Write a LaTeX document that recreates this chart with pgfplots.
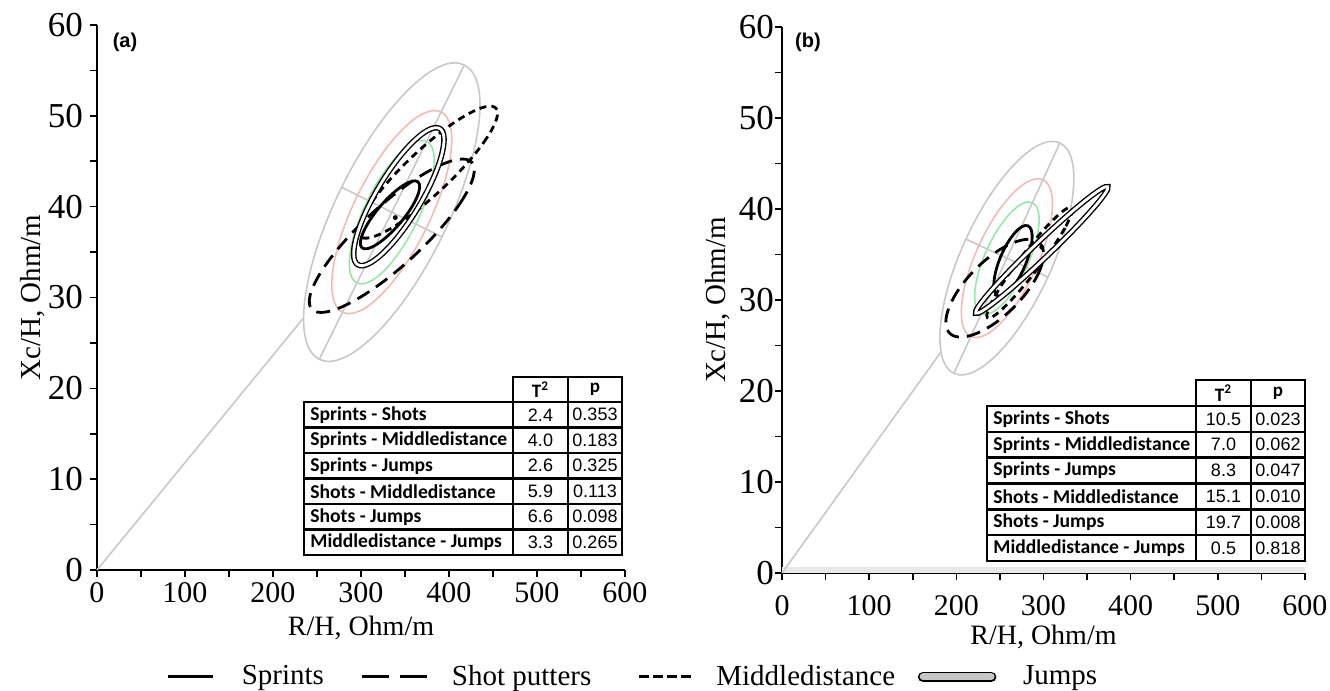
\documentclass[border=0pt]{standalone}
\usepackage{pgfplots}
\pgfplotsset{compat=1.18}
\usepackage{fontspec}
\setmainfont{Liberation Serif}
\newfontfamily\tabfont{Carlito}
\newfontfamily\numfont{Liberation Sans}

\definecolor{tolgray}{RGB}{200,200,200}
\definecolor{tolpink}{RGB}{246,184,184}
\definecolor{tolgreen}{RGB}{150,232,170}

\pgfplotsset{
  biva/.style={
    scale only axis,
    xmin=0, xmax=600, ymin=0, ymax=60,
    axis x line=bottom, axis y line=left,
    axis line style={black, line width=1pt, -},
    xtick={0,100,...,600}, ytick={0,10,...,60},
    minor x tick num=1, minor y tick num=1,
    tick align=outside,
    major tick length=3.5pt, minor tick length=3.5pt,
    every tick/.style={black, line width=0.8pt},
    /pgf/number format/assume math mode=true,
    xticklabel style={font=\fontsize{15}{17}\selectfont},
    yticklabel style={font=\fontsize{17.5}{19}\selectfont},
    xlabel={R/H, Ohm/m}, ylabel={Xc/H, Ohm/m},
    clip=false,
  },
  tol/.style={forget plot, smooth cycle, tension=0.68, line width=0.8pt},
  axisline/.style={forget plot, tolgray, line width=0.8pt},
  sprints/.style={black, line width=1.4pt, smooth cycle, tension=0.68},
  shots/.style={black, line width=1.4pt, dash pattern=on 7pt off 4pt, smooth cycle, tension=0.68},
  middle/.style={black, line width=1.4pt, dash pattern=on 3.5pt off 2.5pt, smooth cycle, tension=0.68},
  jumps/.style={black, line width=0.7pt, double=white, double distance=1.4pt, smooth cycle, tension=0.68},
}

\begin{document}
\begin{tikzpicture}

% ---------------- (a) ----------------
\begin{axis}[biva,
  at={(48.5pt,-285pt)}, anchor=south west,
  width=264pt, height=272.5pt,
  xticklabel style={yshift=1pt},
  every axis x label/.style={at={(axis description cs:0.5,-0.106)}, anchor=center, font=\fontsize{14}{16}\selectfont},
  every axis y label/.style={at={(axis description cs:-0.1212,0.5)}, rotate=90, anchor=center, font=\fontsize{14.5}{17}\selectfont},
  legend style={at={(axis description cs:0.1307,-0.196)}, anchor=west,
    draw=none, fill=none, legend columns=4, inner sep=0pt, column sep=0pt,
    font=\fontsize{14.5}{17}\selectfont, nodes={inner sep=0pt, anchor=west}},
]
% tolerance ellipses 95 / 75 / 50 %
\addplot[tol, tolgray] coordinates {(417.4,55.6) (433.6,48.92) (392,36.67) (317.04,26.01) (252.6,23.2) (236.4,29.88) (278,42.13) (352.96,52.79)};
\addplot[tol, tolpink] coordinates {(391.0,50.42) (402.05,45.87) (373.76,37.54) (322.79,30.29) (278.97,28.38) (267.95,32.93) (296.24,41.26) (347.21,48.51)};
\addplot[tol, tolgreen] coordinates {(374.63,47.19) (382.43,43.98) (362.42,38.09) (326.36,32.96) (295.37,31.61) (287.57,34.82) (307.58,40.71) (343.64,45.84)};
\addplot[axisline] coordinates {(252.6,23.2) (417.4,55.6)};
\addplot[axisline] coordinates {(278,42.13) (392,36.67)};
\addplot[axisline] coordinates {(0,0) (234.3,27.7)};
% groups
\addplot[sprints, legend image code/.code={\path[draw=none] (0pt,0pt) -- (37pt,0pt); \draw[black, line width=1.4pt] (0pt,0pt) -- (22.5pt,0pt);}]
  coordinates {(364.8,42.73) (363.4,41.01) (344.2,38.17) (318.43,35.88) (301.2,35.47) (302.6,37.19) (321.8,40.03) (347.57,42.32)};
\addlegendentry{Sprints}
\addplot[shots, legend image code/.code={\path[draw=none] (0pt,0pt) -- (64pt,0pt); \draw[black, line width=1.4pt, dash pattern=on 13.5pt off 5.5pt] (19pt,0pt) -- (51.5pt,0pt);}]
  coordinates {(425.9,44.89) (415.54,40.81) (358,34.38) (286.99,29.37) (244.1,28.71) (254.46,32.79) (312,39.22) (383.01,44.23)};
\addlegendentry{Shot putters}
\addplot[middle, legend image code/.code={\path[draw=none] (0pt,0pt) -- (62.5pt,0pt); \draw[black, line width=1.4pt, dash pattern=on 5pt off 2pt] (24pt,0pt) -- (50pt,0pt);}]
  coordinates {(453.3,50.85) (442.75,47.54) (393.1,42.04) (333.43,37.57) (298.7,36.75) (309.25,40.06) (358.9,45.56) (418.57,50.03)};
\addlegendentry{Middledistance}
\addplot[jumps, legend image code/.code={\path[draw=none] (0pt,0pt) -- (64pt,0pt); \draw[black, line width=0.9pt, double=gray!45, double distance=3.5pt, line cap=round] (14pt,0pt) -- (48pt,0pt);}]
  coordinates {(389.6,48.59) (391.15,45.51) (364.5,39.84) (325.25,34.91) (296.4,33.61) (294.85,36.69) (321.5,42.36) (360.75,47.29)};
\addlegendentry{Jumps}
\addplot[forget plot, only marks, mark=*, mark size=1pt, black] coordinates {(339,38.8)};
\end{axis}

% ---------------- (b) ----------------
\begin{axis}[biva,
  at={(391pt,-286.5pt)}, anchor=south west,
  width=261.5pt, height=273pt,
  xticklabel style={yshift=-4pt},
  yticklabel style={xshift=3pt},
  every axis x label/.style={at={(axis description cs:0.5,-0.118)}, anchor=center, font=\fontsize{14}{16}\selectfont},
  every axis y label/.style={at={(axis description cs:-0.1224,0.5)}, rotate=90, anchor=center, font=\fontsize{14.5}{17}\selectfont},
]
\addplot[forget plot, gray!18, line width=3pt] coordinates {(0,0.35) (600,0.35)};
\addplot[tol, tolgray] coordinates {(318.8,47.26) (334.23,42.07) (305,32.51) (248.24,24.17) (197.2,21.94) (181.77,27.13) (211,36.69) (267.76,45.03)};
\addplot[tol, tolpink] coordinates {(299.34,43.21) (309.84,39.68) (289.96,33.18) (251.36,27.51) (216.66,25.99) (206.16,29.52) (226.04,36.02) (264.64,41.69)};
\addplot[tol, tolgreen] coordinates {(287.24,40.69) (294.67,38.19) (280.61,33.6) (253.31,29.58) (228.76,28.51) (221.33,31.01) (235.39,35.6) (262.69,39.62)};
\addplot[axisline] coordinates {(197.2,21.94) (318.8,47.26)};
\addplot[axisline] coordinates {(211,36.69) (305,32.51)};
\addplot[axisline] coordinates {(0,0) (182.5,24.3)};
\addplot[sprints] coordinates {(282.2,38.15) (286.85,36.63) (278.7,33.74) (262.53,31.18) (247.8,30.45) (243.15,31.97) (251.3,34.86) (267.47,37.42)};
\addplot[shots] coordinates {(295.6,36.25) (295.97,33.32) (265.9,29.2) (223,26.32) (192.4,26.35) (192.03,29.28) (222.1,33.4) (265,36.28)};
\addplot[middle] coordinates {(332.2,40.16) (324.53,37.91) (293.12,33.43) (256.37,29.34) (235.8,28.04) (243.47,30.29) (274.88,34.77) (311.63,38.86)};
\addplot[jumps] coordinates {(373.7,42.44) (356,39.95) (304.33,34.86) (248.95,30.14) (222.3,28.56) (240,31.05) (291.67,36.14) (347.05,40.86)};
\addplot[only marks, mark=*, mark size=1pt, black] coordinates {(298,35.8)};
\end{axis}

% ---------------- panel letters and tables (pixel grid) ----------------
\begin{scope}[x=0.5pt, y=-0.5pt]
\node[font=\numfont\bfseries\fontsize{10}{12}\selectfont] at (125,42) {(a)};
\node[font=\numfont\bfseries\fontsize{10}{12}\selectfont] at (808,42) {(b)};

% table (a)
\begin{scope}[line width=1.3pt]
\draw (513,377) rectangle (622,402) (568,377) -- (568,402);
\draw (304,402) rectangle (622,555);
\foreach \i in {1,...,5} \draw (304,402+25.5*\i) -- (622,402+25.5*\i);
\draw (513,402) -- (513,555) (568,402) -- (568,555);
\end{scope}
\node[font=\tabfont\bfseries\fontsize{9.5}{11}\selectfont] at (540.5,389.5) {T\textsuperscript{2}};
\node[font=\tabfont\bfseries\fontsize{9.5}{11}\selectfont] at (595,389.5) {p};
\foreach \nm/\t/\p [count=\i from 0] in {Sprints - Shots/2.4/0.353, Sprints - Middledistance/4.0/0.183, Sprints - Jumps/2.6/0.325, Shots - Middledistance/5.9/0.113, Shots - Jumps/6.6/0.098, Middledistance - Jumps/3.3/0.265} {
  \node[anchor=west, inner xsep=1pt, font=\tabfont\bfseries\fontsize{9.8}{11}\selectfont] at (308,414.75+25.5*\i) {\nm};
  \node[font=\numfont\fontsize{9}{11}\selectfont] at (540.5,414.75+25.5*\i) {\t};
  \node[font=\numfont\fontsize{9}{11}\selectfont] at (595,414.75+25.5*\i) {\p};
}

% table (b)
\begin{scope}[line width=1.3pt]
\draw (1196,380) rectangle (1305,406) (1251,380) -- (1251,406);
\draw (987,406) rectangle (1305,561);
\foreach \i in {1,...,5} \draw (987,406+25.83*\i) -- (1305,406+25.83*\i);
\draw (1196,406) -- (1196,561) (1251,406) -- (1251,561);
\end{scope}
\node[font=\tabfont\bfseries\fontsize{9.5}{11}\selectfont] at (1223.5,393) {T\textsuperscript{2}};
\node[font=\tabfont\bfseries\fontsize{9.5}{11}\selectfont] at (1278,393) {p};
\foreach \nm/\t/\p [count=\i from 0] in {Sprints - Shots/10.5/0.023, Sprints - Middledistance/7.0/0.062, Sprints - Jumps/8.3/0.047, Shots - Middledistance/15.1/0.010, Shots - Jumps/19.7/0.008, Middledistance - Jumps/0.5/0.818} {
  \node[anchor=west, inner xsep=1pt, font=\tabfont\bfseries\fontsize{9.8}{11}\selectfont] at (991,418.9+25.83*\i) {\nm};
  \node[font=\numfont\fontsize{9}{11}\selectfont] at (1223.5,418.9+25.83*\i) {\t};
  \node[font=\numfont\fontsize{9}{11}\selectfont] at (1278,418.9+25.83*\i) {\p};
}
\end{scope}

\pgfresetboundingbox
\useasboundingbox (0pt,0pt) rectangle (665pt,-345.5pt);
\end{tikzpicture}
\end{document}
